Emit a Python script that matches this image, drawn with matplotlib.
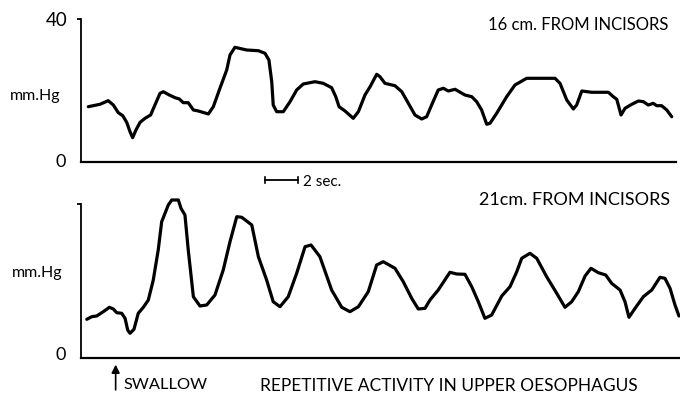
import matplotlib
matplotlib.use("Agg")
import matplotlib.pyplot as plt

plt.rcParams['font.family'] = ['Lato', 'DejaVu Sans']

# Upper trace: 16 cm from incisors (time in s, pressure in mm Hg)
t_16 = [0.44, 1.15, 1.65, 1.96, 2.26, 2.53, 2.77, 2.97, 3.13, 3.33, 3.58, 3.88, 4.22, 4.48, 4.79,
        4.99, 5.35, 5.70, 5.96, 6.20, 6.50, 6.81, 7.11, 7.72, 8.02, 8.42, 8.83, 9.03, 9.33,
        10.04, 10.75, 11.15, 11.39, 11.56, 11.65, 11.86, 12.26, 12.67, 13.07, 13.47, 14.18,
        14.68, 15.19, 15.44, 15.64, 16.00, 16.50, 16.81, 17.21, 17.52, 17.92, 18.12, 18.42,
        19.03, 19.44, 19.84, 20.24, 20.65, 20.95, 21.25, 21.65, 21.96, 22.26, 22.67, 23.27,
        23.68, 23.98, 24.28, 24.59, 24.79, 25.19, 25.80, 26.30, 27.01, 28.73, 29.03, 29.44,
        29.84, 30.04, 30.35, 30.95, 31.96, 32.26, 32.47, 32.73, 32.97, 33.38, 33.78, 34.08,
        34.38, 34.68, 34.89, 35.19, 35.50, 35.80]
p_16 = [15.47, 16.14, 17.15, 15.94, 13.79, 12.95, 11.10, 8.48, 6.80, 8.95, 11.10, 12.22, 13.15, 15.94, 19.22,
        19.66, 18.74, 17.99, 17.62, 16.59, 16.59, 14.55, 14.27, 13.43, 15.47, 20.62, 25.73, 29.93, 32.08,
        31.33, 31.13, 30.41, 28.53, 22.46, 15.94, 14.07, 14.07, 16.87, 20.14, 21.82, 22.46,
        22.01, 20.78, 18.27, 15.47, 14.27, 12.22, 14.07, 18.74, 21.06, 24.53, 23.86, 22.01,
        21.34, 19.66, 16.42, 13.15, 12.03, 12.67, 15.94, 20.14, 20.62, 19.86, 20.34, 18.74,
        18.27, 16.87, 14.55, 10.55, 10.83, 13.62, 18.27, 21.54, 23.41, 23.41, 22.01, 17.34,
        14.83, 15.94, 19.86, 19.50, 19.50, 18.27, 17.54, 13.15, 15.02, 16.14, 17.06, 16.87,
        15.94, 16.42, 15.75, 15.75, 14.55, 12.67]

# Lower trace: 21 cm from incisors
t_21 = [0.35, 0.65, 0.95, 1.35, 1.72, 1.96, 2.16, 2.47, 2.67, 2.83, 2.97, 3.21, 3.47, 3.78, 4.08,
        4.38, 4.68, 4.89, 5.29, 5.50, 5.90, 6.06, 6.30, 6.50, 6.81, 7.21, 7.62, 8.12, 8.62, 9.03,
        9.44, 9.74, 10.35, 10.75, 11.25, 11.65, 12.06, 12.56, 13.07, 13.58, 13.94, 14.48, 15.19,
        15.80, 16.30, 16.81, 17.41, 17.92, 18.32, 19.03, 19.53, 20.04, 20.44, 20.85, 21.15,
        21.65, 22.36, 22.77, 23.27, 23.68, 24.08, 24.48, 24.89, 25.50, 26.00, 26.41, 26.71,
        27.21, 27.62, 28.22, 28.83, 29.33, 29.74, 30.14, 30.55, 30.91, 31.35, 31.80, 32.16,
        32.67, 32.97, 33.21, 33.58, 34.08, 34.59, 35.09, 35.39, 35.70, 36.00, 36.24]
p_21 = [10.05, 10.73, 10.91, 12.03, 13.17, 12.73, 11.77, 11.61, 10.31, 7.27, 6.42, 7.45, 11.61, 13.17, 15.06,
        20.26, 28.05, 35.40, 39.74, 41.04, 41.04, 38.88, 37.14, 28.05, 15.92, 13.51, 13.77, 16.36, 22.86, 30.21,
        36.70, 36.55, 34.55, 26.31, 20.26, 14.62, 13.32, 15.92, 22.00, 28.91, 29.35, 26.31, 17.66,
        13.17, 12.03, 13.32, 17.22, 24.16, 25.01, 23.30, 19.82, 15.51, 12.73, 12.91, 15.06,
        17.66, 22.26, 21.82, 21.74, 18.52, 14.62, 10.31, 11.17, 16.10, 18.52, 22.42, 25.90,
        27.19, 25.90, 21.12, 16.81, 13.17, 14.62, 17.22, 21.30, 23.30, 22.16, 21.56, 19.40,
        17.66, 14.62, 10.57, 12.91, 15.92, 17.66, 20.96, 20.70, 18.10, 13.77, 10.91]

swallow_t = 2.1
scale_t = 2.0

W, H = 680, 401
fig = plt.figure(figsize=(W / 100, H / 100), dpi=100)

def axes_px(x0, y_top, x1, y_bot):
    return fig.add_axes([x0 / W, 1 - y_bot / H, (x1 - x0) / W, (y_bot - y_top) / H])

px_per_s = 16.5
ax1 = axes_px(81, 19, 676, 162)
ax1.set_xlim(0, (676 - 81) / px_per_s)
ax1.set_ylim(0, 40)
ax2 = axes_px(81, 204, 680, 358)
ax2.set_xlim(0, (680 - 81) / px_per_s)
ax2.set_ylim(0, 40)

lw = 2.3
ax1.plot(t_16, p_16, color='black', lw=lw, solid_joinstyle='round', solid_capstyle='round', clip_on=False)
ax2.plot(t_21, p_21, color='black', lw=lw, solid_joinstyle='round', solid_capstyle='round', clip_on=False)

for ax in (ax1, ax2):
    for s in ('top', 'right'):
        ax.spines[s].set_visible(False)
    ax.spines['left'].set_linewidth(1.3)
    ax.spines['bottom'].set_linewidth(1.6)
    ax.set_xticks([])
    ax.set_yticks([40])
    ax.set_yticklabels([''])
    ax.tick_params(axis='y', length=3, width=1.3, direction='out')
    ax.set_facecolor('none')

# labels top panel
fig.text(68 / W, 1 - 21 / H, '40', ha='right', va='center', fontsize=13.5)
fig.text(66 / W, 1 - 162 / H, '0', ha='right', va='center', fontsize=13)
fig.text(10 / W, 1 - 96 / H, 'mm.Hg', ha='left', va='center', fontsize=11.5)
fig.text(668 / W, 1 - 25 / H, '16 cm. FROM INCISORS', ha='right', va='center', fontsize=12)
# scale bar
y_sb = -5.0
x_sb0 = (265 - 81) / px_per_s
ax1.plot([x_sb0, x_sb0 + scale_t], [y_sb, y_sb], color='black', lw=1.3, clip_on=False)
ax1.plot([x_sb0, x_sb0], [y_sb - 0.9, y_sb + 0.9], color='black', lw=1.2, clip_on=False)
ax1.plot([x_sb0 + scale_t, x_sb0 + scale_t], [y_sb - 0.9, y_sb + 0.9], color='black', lw=1.2, clip_on=False)
fig.text(303 / W, 1 - 182 / H, '2 sec.', ha='left', va='center', fontsize=11)

# labels bottom panel
fig.text(66 / W, 1 - 355 / H, '0', ha='right', va='center', fontsize=13)
fig.text(12 / W, 1 - 273 / H, 'mm.Hg', ha='left', va='center', fontsize=11.5)
fig.text(670 / W, 1 - 200 / H, '21cm. FROM INCISORS', ha='right', va='center', fontsize=13)

# swallow marker
ax2.annotate('', xy=(swallow_t, -1.0), xytext=(swallow_t, -9.0),
             arrowprops=dict(arrowstyle='-|>', color='black', lw=1.2, mutation_scale=12),
             annotation_clip=False)
fig.text(123 / W, 1 - 385 / H, 'SWALLOW', ha='left', va='center', fontsize=11.8)
fig.text(260 / W, 1 - 386 / H, 'REPETITIVE ACTIVITY IN UPPER OESOPHAGUS', ha='left', va='center', fontsize=12.5)

fig.savefig('out.png', dpi=100, facecolor='white')
